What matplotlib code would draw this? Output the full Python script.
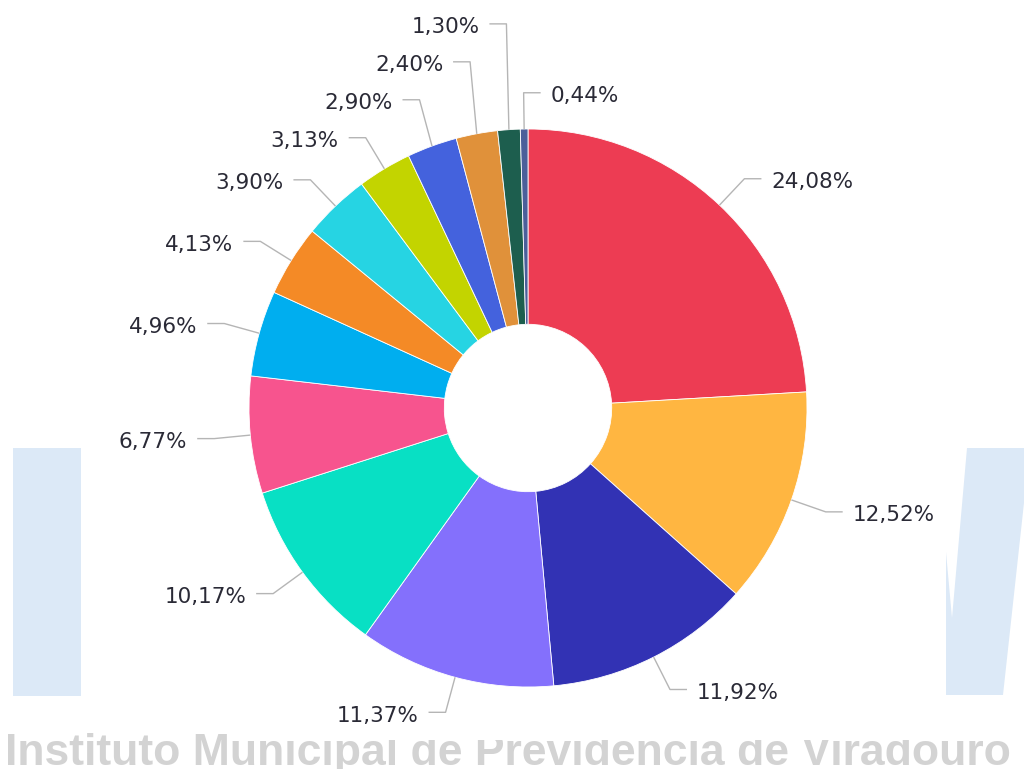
import matplotlib
matplotlib.use('Agg')
import matplotlib.pyplot as plt
import numpy as np
from matplotlib.patches import Rectangle, Polygon

# slice data, clockwise from 12 o'clock
values = [24.08, 12.52, 11.92, 11.37, 10.17, 6.77, 4.96, 4.13, 3.90, 3.13, 2.90, 2.40, 1.30, 0.44]
labels = ['24,08%', '12,52%', '11,92%', '11,37%', '10,17%', '6,77%', '4,96%',
          '4,13%', '3,90%', '3,13%', '2,90%', '2,40%', '1,30%', '0,44%']
colors = ['#ED3C53', '#FFB641', '#3232B4', '#8470FC', '#08E0C4', '#F7548E', '#00AEEF',
          '#F48A26', '#26D4E3', '#C3D400', '#4462DD', '#E0913A', '#1D5E4E', '#4B5F9A']
watermark = 'Instituto Municipal de Previdencia de Viradouro'

W, H = 1024, 769
cx, cy, R = 528, 408, 279

fig = plt.figure(figsize=(W / 100, H / 100), dpi=100)

# background logo / watermark, in pixel coords
bg = fig.add_axes([0, 0, 1, 1])
bg.set_xlim(0, W)
bg.set_ylim(H, 0)
bg.axis('off')
wm_blue = '#DCE9F7'
bg.add_patch(Rectangle((13, 448), 68, 248, color=wm_blue, lw=0))
bg.add_patch(Polygon([(967, 448), (1030, 448), (1003, 695), (946, 695), (946, 552), (952, 618)],
                     closed=True, color=wm_blue, lw=0))
bg.text(5, 765, watermark, fontsize=32, fontweight='bold', color='#D3D3D3',
        family='Liberation Sans', ha='left', va='baseline', zorder=1)
# the top of the watermark text is cut off after the first word
bg.add_patch(Rectangle((255, 700), 800, 40, color='white', lw=0, zorder=2))

# donut
ax = fig.add_axes([0, 0, 1, 1])
ax.patch.set_alpha(0)
wedges, _ = ax.pie(values, colors=colors, startangle=90, counterclock=False, radius=1,
                   wedgeprops=dict(width=0.70, edgecolor='white', linewidth=0.6))
ax.set_aspect('auto')
ax.set_xlim(-cx / R, (W - cx) / R)
ax.set_ylim(-(H - cy) / R, cy / R)
ax.axis('off')

# labels with bent leader lines
r_elb = 1.13
gap = 0.136
h = 0.061
pad = 0.035
info = []
for i, w in enumerate(wedges):
    th = np.deg2rad((w.theta1 + w.theta2) / 2)
    ex, ey = np.cos(th), np.sin(th)
    side = 1 if ex > -0.05 else -1
    info.append({'i': i, 'ex': ex, 'ey': ey, 'bx': r_elb * ex, 'by': r_elb * ey, 'side': side})

left = sorted([d for d in info if d['side'] < 0], key=lambda d: d['by'])
for a, b in zip(left, left[1:]):
    if b['by'] - a['by'] < gap:
        b['by'] = a['by'] + gap

for d in info:
    s = d['side']
    ax.plot([d['ex'], d['bx'], d['bx'] + s * h], [d['ey'], d['by'], d['by']],
            color='#B5B5B5', lw=1, solid_capstyle='butt')
    ax.text(d['bx'] + s * (h + pad), d['by'] - 0.012, labels[d['i']],
            ha='left' if s > 0 else 'right', va='center', fontsize=15.5,
            color='#2A2A36', family='DejaVu Sans')

fig.savefig('out.png', dpi=100)
